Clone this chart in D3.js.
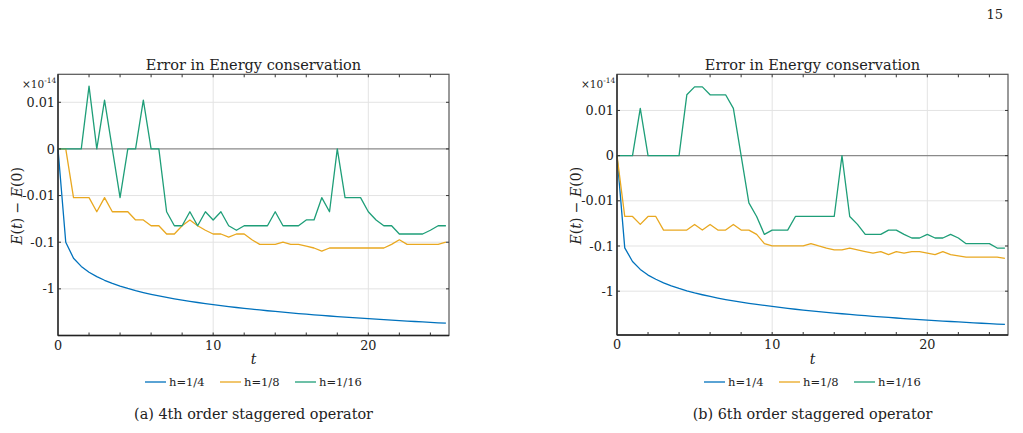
<!DOCTYPE html>
<html>
<head>
<meta charset="utf-8">
<script src="https://cdn.jsdelivr.net/npm/d3@7"></script>
<style>
  body { margin: 0; background: #fff; }
  svg text { font-family: "DejaVu Serif", serif; fill: #222; }
</style>
</head>
<body>
<script>
var times = [0, 0.5, 1, 1.5, 2, 2.5, 3, 3.5, 4, 4.5,
  5, 5.5, 6, 6.5, 7, 7.5, 8, 8.5, 9, 9.5,
  10, 10.5, 11, 11.5, 12, 12.5, 13, 13.5, 14, 14.5,
  15, 15.5, 16, 16.5, 17, 17.5, 18, 18.5, 19, 19.5,
  20, 20.5, 21, 21.5, 22, 22.5, 23, 23.5, 24, 24.5, 25];

// values in units of 1e-14
var blueA = [0, -0.10, -0.22, -0.33, -0.44, -0.545, -0.655, -0.765, -0.87, -0.98,
  -1.09, -1.2, -1.31, -1.42, -1.53, -1.635, -1.745, -1.855, -1.96, -2.07,
  -2.18, -2.29, -2.4, -2.51, -2.62, -2.725, -2.835, -2.945, -3.05, -3.16,
  -3.27, -3.38, -3.49, -3.6, -3.71, -3.815, -3.925, -4.035, -4.14, -4.25,
  -4.36, -4.47, -4.58, -4.69, -4.8, -4.905, -5.015, -5.125, -5.23, -5.34, -5.45];
var orangeA = [0, 0, -0.0111, -0.0111, -0.0111, -0.0222, -0.0111, -0.0222, -0.0222, -0.0222,
  -0.0333, -0.0333, -0.0444, -0.0444, -0.0666, -0.0666, -0.0444, -0.0333, -0.0444, -0.0555,
  -0.0666, -0.0666, -0.0777, -0.0666, -0.0666, -0.0888, -0.111, -0.111, -0.111, -0.0999,
  -0.111, -0.111, -0.122, -0.133, -0.155, -0.133, -0.133, -0.133, -0.133, -0.133,
  -0.133, -0.133, -0.133, -0.111, -0.0888, -0.111, -0.111, -0.111, -0.111, -0.111, -0.0999];
var greenA = [0, 0, 0, 0, 0.0222, 0, 0.0111, 0, -0.0111, 0,
  0, 0.0111, 0, 0, -0.0222, -0.0444, -0.0444, -0.0222, -0.0444, -0.0222,
  -0.0333, -0.0222, -0.0444, -0.0555, -0.0444, -0.0444, -0.0444, -0.0444, -0.0222, -0.0444,
  -0.0444, -0.0444, -0.0333, -0.0333, -0.0111, -0.0222, 0, -0.0111, -0.0111, -0.0111,
  -0.0222, -0.0333, -0.0444, -0.0444, -0.0666, -0.0666, -0.0666, -0.0666, -0.0555, -0.0444, -0.0444];

var blueB = [0, -0.11, -0.22, -0.33, -0.44, -0.545, -0.655, -0.765, -0.87, -0.98,
  -1.09, -1.2, -1.31, -1.42, -1.53, -1.635, -1.745, -1.855, -1.96, -2.07,
  -2.18, -2.29, -2.4, -2.51, -2.62, -2.725, -2.835, -2.945, -3.05, -3.16,
  -3.27, -3.38, -3.49, -3.6, -3.71, -3.815, -3.925, -4.035, -4.14, -4.25,
  -4.36, -4.47, -4.58, -4.69, -4.8, -4.905, -5.015, -5.125, -5.23, -5.34, -5.45];
var orangeB = [0, -0.0222, -0.0222, -0.0333, -0.0222, -0.0222, -0.0444, -0.0444, -0.0444, -0.0444,
  -0.0333, -0.0444, -0.0333, -0.0444, -0.0444, -0.0333, -0.0444, -0.0444, -0.0555, -0.0888,
  -0.0999, -0.0999, -0.0999, -0.0999, -0.0999, -0.0888, -0.0999, -0.111, -0.122, -0.122,
  -0.111, -0.122, -0.133, -0.144, -0.133, -0.155, -0.133, -0.144, -0.133, -0.133,
  -0.144, -0.155, -0.133, -0.155, -0.166, -0.177, -0.177, -0.177, -0.177, -0.177, -0.188];
var greenB = [0, 0, 0, 0.0111, 0, 0, 0, 0, 0, 0.0222,
  0.0333, 0.0333, 0.0222, 0.0222, 0.0222, 0.0111, 0, -0.0111, -0.0222, -0.0555,
  -0.0444, -0.0444, -0.0444, -0.0222, -0.0222, -0.0222, -0.0222, -0.0222, -0.0222, 0,
  -0.0222, -0.0333, -0.0555, -0.0555, -0.0555, -0.0444, -0.0444, -0.0555, -0.0666, -0.0666,
  -0.0555, -0.0666, -0.0666, -0.0555, -0.0666, -0.0888, -0.0888, -0.0888, -0.0888, -0.111, -0.111];

var seriesNames = ["h=1/4", "h=1/8", "h=1/16"];
var colors = ["#0072BD", "#E9A820", "#1E9E78"];
var yTickVals = [0.01, 0, -0.01, -0.1, -1];
var yTickLabels = ["0.01", "0", "-0.01", "-0.1", "-1"];
var xTickVals = [0, 10, 20];
var xMinor = [2, 4, 6, 8, 12, 14, 16, 18, 22, 24];

var w = 1023, h = 433;
var lin = 0.01;

// symmetric log: linear inside +-0.01, one unit per decade outside
function symT(v) {
  var a = Math.abs(v);
  if (a <= lin) return v / lin;
  return Math.sign(v) * (1 + Math.log10(a / lin));
}

var svg = d3.select("body").append("svg")
  .attr("width", w)
  .attr("height", h);

svg.append("text")
  .attr("x", 1003).attr("y", 19)
  .attr("text-anchor", "end")
  .style("font-size", "13px")
  .text("15");

var panels = [
  {left: 58, right: 449, top: 74.3, bottom: 335.5, ydom: [-4, 1.6],
   data: [blueA, orangeA, greenA], caption: "(a) 4th order staggered operator"},
  {left: 617, right: 1008, top: 74.3, bottom: 335, ydom: [-3.97, 1.8],
   data: [blueB, orangeB, greenB], caption: "(b) 6th order staggered operator"}
];

panels.forEach(function(p) {
  var g = svg.append("g");
  var x = d3.scaleLinear().domain([0, 25.2]).range([p.left, p.right]);
  var yl = d3.scaleLinear().domain(p.ydom).range([p.bottom, p.top]);
  var y = function(v) { return yl(symT(v)); };
  var cx = (p.left + p.right) / 2;

  // grid
  g.selectAll(".gx").data(xTickVals.slice(1)).enter().append("line")
    .attr("x1", d => x(d)).attr("x2", d => x(d))
    .attr("y1", p.top).attr("y2", p.bottom)
    .attr("stroke", "#e3e3e3").attr("stroke-width", 1);
  g.selectAll(".gy").data(yTickVals.filter(d => d !== 0)).enter().append("line")
    .attr("x1", p.left).attr("x2", p.right)
    .attr("y1", d => y(d)).attr("y2", d => y(d))
    .attr("stroke", "#e3e3e3").attr("stroke-width", 1);
  g.append("line")
    .attr("x1", p.left).attr("x2", p.right)
    .attr("y1", y(0)).attr("y2", y(0))
    .attr("stroke", "#8a8a8a").attr("stroke-width", 1.3);

  // lines
  var line = d3.line()
    .x((d, i) => x(times[i]))
    .y(d => y(d));
  p.data.forEach(function(s, k) {
    g.append("path")
      .datum(s)
      .attr("d", line)
      .attr("fill", "none")
      .attr("stroke", colors[k])
      .attr("stroke-width", 1.3)
      .attr("stroke-linejoin", "round");
  });

  // box
  g.append("rect")
    .attr("x", p.left).attr("y", p.top)
    .attr("width", p.right - p.left).attr("height", p.bottom - p.top)
    .attr("fill", "none").attr("stroke", "#555").attr("stroke-width", 1.2);
  g.append("line").attr("x1", p.left).attr("x2", p.left)
    .attr("y1", p.top).attr("y2", p.bottom)
    .attr("stroke", "#222").attr("stroke-width", 1.3);
  g.append("line").attr("x1", p.left).attr("x2", p.right)
    .attr("y1", p.bottom).attr("y2", p.bottom)
    .attr("stroke", "#222").attr("stroke-width", 1.3);

  // inward ticks
  var allX = xMinor.concat(xTickVals.slice(1));
  [p.top, p.bottom].forEach(function(yy, j) {
    g.selectAll(null).data(allX).enter().append("line")
      .attr("x1", d => x(d)).attr("x2", d => x(d))
      .attr("y1", yy).attr("y2", j === 0 ? yy + 3 : yy - 3)
      .attr("stroke", "#333").attr("stroke-width", 1);
  });
  [p.left, p.right].forEach(function(xx, j) {
    g.selectAll(null).data(yTickVals).enter().append("line")
      .attr("y1", d => y(d)).attr("y2", d => y(d))
      .attr("x1", xx).attr("x2", j === 0 ? xx + 3 : xx - 3)
      .attr("stroke", "#333").attr("stroke-width", 1);
  });

  // tick labels
  g.selectAll(".yl").data(yTickVals).enter().append("text")
    .attr("x", p.left - 3)
    .attr("y", d => y(d) + 4.6)
    .attr("text-anchor", "end")
    .style("font-size", "12.8px")
    .text((d, i) => yTickLabels[i]);
  g.selectAll(".xl").data(xTickVals).enter().append("text")
    .attr("x", d => x(d))
    .attr("y", p.bottom + 14)
    .attr("text-anchor", "middle")
    .style("font-size", "12.8px")
    .text(d => d);

  // exponent
  var ex = g.append("text")
    .attr("x", p.left - 36).attr("y", 88)
    .style("font-size", "10.5px");
  ex.append("tspan").text("\u00d710");
  ex.append("tspan").attr("dy", -5).style("font-size", "7.5px").text("-14");

  // title
  g.append("text")
    .attr("x", cx).attr("y", 70)
    .attr("text-anchor", "middle")
    .style("font-size", "14.5px")
    .text("Error in Energy conservation");

  // y label
  var yt = g.append("text")
    .attr("transform", "translate(" + (p.left - 36) + "," + ((p.top + p.bottom) / 2 + 1) + ") rotate(-90)")
    .attr("text-anchor", "middle")
    .style("font-size", "14px");
  yt.append("tspan").style("font-style", "italic").text("E");
  yt.append("tspan").text("(");
  yt.append("tspan").style("font-style", "italic").text("t");
  yt.append("tspan").text(") \u2212 ");
  yt.append("tspan").style("font-style", "italic").text("E");
  yt.append("tspan").text("(0)");

  // x label
  g.append("text")
    .attr("x", cx).attr("y", 364)
    .attr("text-anchor", "middle")
    .style("font-size", "14px")
    .style("font-style", "italic")
    .text("t");

  // legend
  var lx = [p.left + 87, p.left + 162, p.left + 237];
  seriesNames.forEach(function(n, k) {
    g.append("line")
      .attr("x1", lx[k]).attr("x2", lx[k] + 21)
      .attr("y1", 382).attr("y2", 382)
      .attr("stroke", colors[k]).attr("stroke-width", 1.3);
    g.append("text")
      .attr("x", lx[k] + 24).attr("y", 386)
      .style("font-size", "11.5px")
      .text(n);
  });

  // caption
  g.append("text")
    .attr("x", cx).attr("y", 419)
    .attr("text-anchor", "middle")
    .style("font-size", "14.4px")
    .text(p.caption);
});
</script>
</body>
</html>
